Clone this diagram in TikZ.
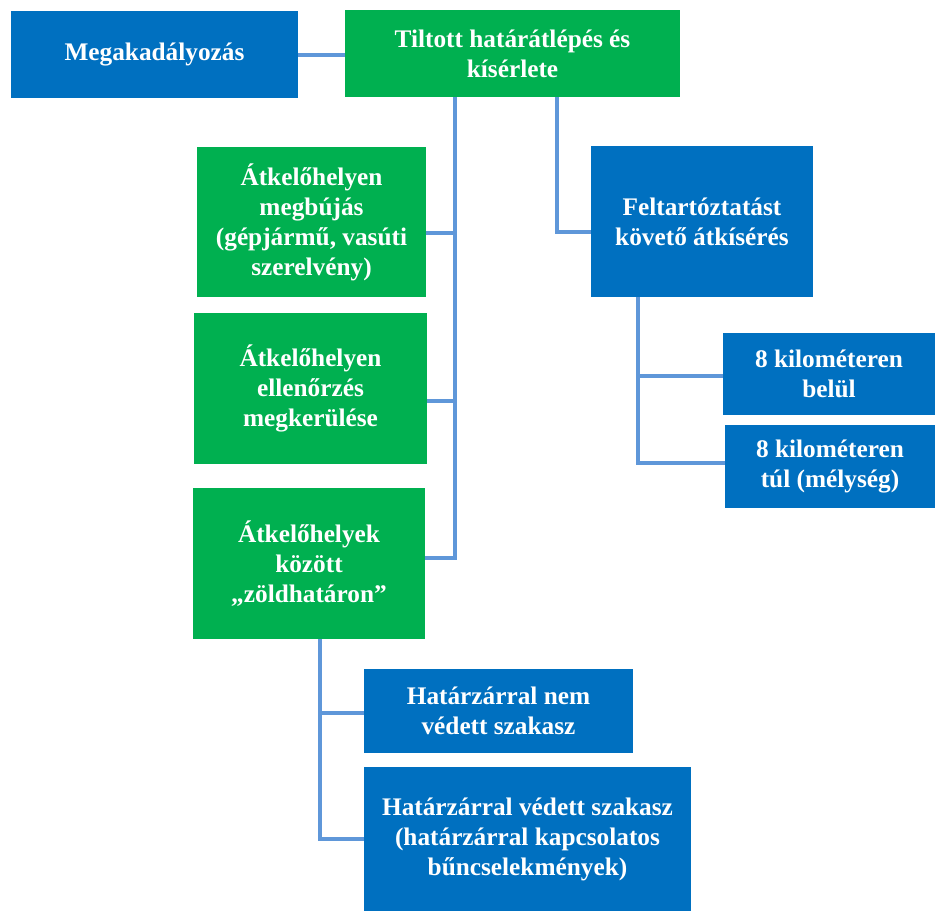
\documentclass[tikz,border=0pt]{standalone}
\usepackage{fontspec}
\setmainfont{Liberation Serif}
\definecolor{bblue}{HTML}{0070C0}
\definecolor{bgreen}{HTML}{00B050}
\definecolor{lline}{HTML}{5F97D9}
\begin{document}
\begin{tikzpicture}[x=1pt,y=-1pt,
  box/.style={draw=none,inner sep=2pt,align=center,text=white,
    font=\fontsize{25.3}{30}\selectfont\bfseries},
  bluebox/.style={box,fill=bblue},
  greenbox/.style={box,fill=bgreen},
  conn/.style={draw=lline,line width=4pt}]
\path[use as bounding box,fill=white] (0,0) rectangle (935,911);
\node[bluebox,minimum width=287,minimum height=87] (mega) at (154.5,54.5) {Megakadályozás};
\node[greenbox,minimum width=335,minimum height=87] (tilt) at (512.5,53.5) {Tiltott határátlépés és\\kísérlete};
\node[greenbox,minimum width=229,minimum height=150] (a1) at (311.5,222) {Átkelőhelyen\\megbújás\\(gépjármű, vasúti\\szerelvény)};
\node[greenbox,minimum width=233,minimum height=151] (a2) at (310.5,388.5) {Átkelőhelyen\\ellenőrzés\\megkerülése};
\node[greenbox,minimum width=232,minimum height=151] (a3) at (309,563.5) {Átkelőhelyek\\között\\„zöldhatáron”};
\node[bluebox,minimum width=222,minimum height=151] (felt) at (702,221.5) {Feltartóztatást\\követő átkísérés};
\node[bluebox,minimum width=212,minimum height=82] (k1) at (829,374) {8 kilométeren\\belül};
\node[bluebox,minimum width=210,minimum height=83] (k2) at (830,466.5) {8 kilométeren\\túl (mélység)};
\node[bluebox,minimum width=269,minimum height=84] (h1) at (498.5,711) {Határzárral nem\\védett szakasz};
\node[bluebox,minimum width=327,minimum height=144] (h2) at (527.5,839) {Határzárral védett szakasz\\(határzárral kapcsolatos\\bűncselekmények)};
% junction coordinates
\coordinate (s1) at (455,233);
\coordinate (s2) at (455,401);
\coordinate (s3) at (455,558);
\coordinate (r1) at (557,232);
\coordinate (f1) at (638,376);
\coordinate (f2) at (638,463);
\coordinate (g1) at (320,713);
\coordinate (g2) at (320,839);
% connectors
\draw[conn] (mega.east) -- (tilt.west |- mega.east);
\draw[conn] (tilt.south -| s1) -- (s3) -- (a3.east |- s3);
\draw[conn] (a1.east |- s1) -- (s1);
\draw[conn] (a2.east |- s2) -- (s2);
\draw[conn] (tilt.south -| r1) -- (r1) -- (felt.west |- r1);
\draw[conn] (felt.south -| f1) -- (f2) -- (k2.west |- f2);
\draw[conn] (f1) -- (k1.west |- f1);
\draw[conn] (a3.south -| g1) -- (g2) -- (h2.west |- g2);
\draw[conn] (g1) -- (h1.west |- g1);
\end{tikzpicture}
\end{document}
